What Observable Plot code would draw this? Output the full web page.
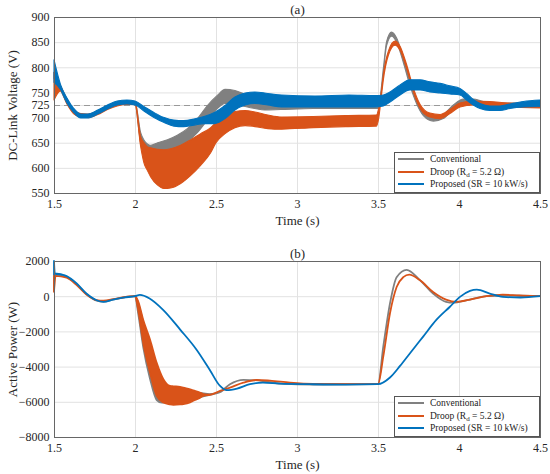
<!DOCTYPE html>
<html>
<head>
<meta charset="utf-8">
<script src="https://cdn.jsdelivr.net/npm/d3@7"></script>
<script src="https://cdn.jsdelivr.net/npm/@observablehq/plot@0.6"></script>
<style>
  html, body { margin: 0; padding: 0; background: #fff; }
  #wrap { position: relative; width: 550px; height: 474px; font-family: "Liberation Serif", serif; }
  #wrap svg, #wrap svg text { font-family: "Liberation Serif", serif !important; }
  .legend { position: absolute; background: #fff; border: 1px solid #555; box-sizing: border-box;
            font-family: "Liberation Serif", serif; font-size: 9.5px; color: #222; }
  .row { display: flex; align-items: center; height: 12.5px; line-height: 12.5px; white-space: nowrap; }
  .swatch { width: 26px; height: 0; border-top: 2px solid; margin-left: 3px; margin-right: 6px; }
  sub { font-size: 7px; vertical-align: -2px; line-height: 0; }
</style>
</head>
<body>
<div id="wrap"></div>
<script>
// ---------- Tick labels ----------
const TIME_TICKS = [1.5, 2, 2.5, 3, 3.5, 4, 4.5];
const VOLT_TICKS = [550, 600, 650, 700, 725, 750, 800, 850, 900];
const POWER_TICKS = [-8000, -6000, -4000, -2000, 0, 2000];
const VOLT_REF = [725];

// ---------- Series names / colours ----------
const SERIES = ["Conventional", "Droop (Rd = 5.2 Ω)", "Proposed (SR = 10 kW/s)"];
const COLORS = ["#808080", "#D95319", "#0072BD"];

// ---------- (a) DC-link voltage: ripple envelopes (low / high) ----------
const convVT  = [1.5, 1.54, 1.58, 1.62, 1.665, 1.705, 1.77, 1.83, 1.89, 1.95, 2.0, 2.035, 2.056, 2.097, 2.14, 2.2, 2.261, 2.323, 2.385, 2.447, 2.508, 2.556, 2.617, 2.68, 2.74, 2.8, 2.9, 3.1, 3.3, 3.5, 3.512, 3.533, 3.553, 3.584, 3.615, 3.656, 3.697, 3.739, 3.78, 3.842, 3.903, 3.965, 4.027, 4.088, 4.15, 4.27, 4.5];
const convVLo = [778, 755, 728, 710, 700, 700, 708, 718, 725, 727, 726, 650, 638, 625, 626, 630, 640, 652, 670, 695, 718, 728, 727, 722, 718, 715, 716, 718, 718, 718, 730, 790, 843, 862, 850, 810, 764, 727, 704, 693, 698, 717, 729, 729, 724, 721, 721];
const convVHi = [790, 763, 736, 716, 706, 706, 714, 724, 731, 733, 732, 670, 655, 645, 650, 656, 665, 678, 698, 724, 744, 756, 754, 746, 738, 735, 734, 734, 734, 734, 740, 798, 851, 870, 858, 818, 772, 735, 712, 700, 706, 725, 737, 737, 732, 729, 729];

const droopVT  = [1.5, 1.54, 1.58, 1.62, 1.665, 1.705, 1.77, 1.83, 1.89, 1.95, 2.0, 2.035, 2.056, 2.076, 2.097, 2.138, 2.179, 2.22, 2.282, 2.344, 2.405, 2.467, 2.5, 2.556, 2.617, 2.68, 2.74, 2.82, 2.905, 3.1, 3.3, 3.49, 3.505, 3.52, 3.533, 3.564, 3.605, 3.636, 3.677, 3.718, 3.76, 3.82, 3.883, 3.944, 4.006, 4.09, 4.19, 4.3, 4.5];
const droopVLo = [735, 753, 727, 708, 701, 700, 706, 716, 723, 726, 726, 642, 609, 595, 582, 566, 559, 560, 569, 585, 605, 630, 650, 668, 680, 684, 682, 678, 677, 680, 682, 683, 700, 740, 775, 824, 844, 834, 797, 751, 718, 701, 698, 708, 721, 725, 724, 721, 719];
const droopVHi = [790, 763, 737, 716, 708, 707, 713, 723, 730, 732, 732, 662, 650, 642, 640, 637, 636, 638, 645, 656, 668, 680, 690, 705, 712, 714, 711, 705, 701, 702, 704, 705, 720, 750, 785, 832, 852, 842, 805, 759, 726, 709, 706, 716, 729, 733, 732, 729, 727];

const propVT  = [1.5, 1.54, 1.58, 1.62, 1.665, 1.705, 1.77, 1.83, 1.89, 1.95, 2.0, 2.055, 2.117, 2.18, 2.24, 2.3, 2.364, 2.426, 2.49, 2.556, 2.617, 2.68, 2.74, 2.82, 2.905, 3.11, 3.32, 3.48, 3.533, 3.574, 3.636, 3.697, 3.76, 3.82, 3.883, 3.944, 4.006, 4.047, 4.088, 4.13, 4.19, 4.253, 4.314, 4.397, 4.5];
const propVLo = [770, 756, 729, 711, 699, 699, 707, 717, 725, 727, 725, 713, 700, 690, 683, 682, 685, 688, 688, 698, 715, 725, 728, 725, 721, 721, 721, 721, 723, 731, 745, 755, 755, 751, 749, 747, 745, 735, 725, 718, 714, 714, 718, 721, 722];
const propVHi = [815, 766, 739, 719, 707, 707, 715, 725, 733, 735, 733, 722, 710, 700, 695, 694, 697, 702, 710, 724, 741, 749, 751, 748, 745, 743, 745, 744, 745, 751, 765, 775, 775, 771, 768, 763, 758, 748, 736, 728, 723, 723, 727, 732, 735];

// ---------- (b) Active power ----------
const convPT  = [1.5, 1.505, 1.578, 1.64, 1.70, 1.763, 1.805, 1.866, 1.93, 2.0, 2.02, 2.051, 2.093, 2.134, 2.165, 2.2, 2.3, 2.4, 2.46, 2.525, 2.586, 2.67, 2.79, 2.9, 3.1, 3.5, 3.533, 3.574, 3.615, 3.677, 3.76, 3.84, 3.92, 3.965, 4.05, 4.17, 4.3, 4.5];
const convPLo = [300, 1250, 1100, 680, 120, -250, -300, -180, -70, 0, -1000, -2900, -4700, -5900, -6050, -6050, -5950, -5750, -5600, -5450, -5000, -4750, -4820, -4970, -5020, -5000, -2840, -410, 1080, 1500, 900, 150, -320, -370, -220, 0, 40, 0];
const convPHi = [1200, 1250, 1100, 680, 120, -250, -300, -180, -70, 0, -400, -1500, -2700, -4000, -4700, -5150, -5250, -5500, -5560, -5450, -5000, -4750, -4820, -4970, -5020, -5000, -2840, -410, 1080, 1500, 900, 150, -320, -370, -220, 0, 40, 0];

const droopPT  = [1.5, 1.51, 1.578, 1.64, 1.70, 1.763, 1.805, 1.866, 1.93, 2.0, 2.02, 2.051, 2.093, 2.134, 2.175, 2.216, 2.237, 2.278, 2.298, 2.34, 2.36, 2.40, 2.42, 2.463, 2.525, 2.586, 2.669, 2.751, 2.833, 2.957, 3.1, 3.5, 3.533, 3.574, 3.615, 3.656, 3.693, 3.76, 3.84, 3.92, 3.986, 4.068, 4.17, 4.27, 4.37, 4.5];
const droopPLo = [250, 1150, 1050, 630, 100, -220, -250, -170, -60, 0, -790, -2660, -4350, -5660, -6040, -6150, -6170, -6150, -6130, -6030, -5940, -5780, -5660, -5600, -5380, -5190, -4910, -4760, -4800, -4910, -4980, -5000, -3400, -970, 520, 1080, 1230, 900, 240, -190, -320, -190, 0, 90, 40, 0];
const droopPHi = [1150, 1150, 1050, 630, 100, -220, -250, -170, -60, 0, -300, -1350, -2470, -3790, -4720, -5100, -5120, -5150, -5200, -5290, -5350, -5470, -5560, -5600, -5380, -5190, -4910, -4760, -4800, -4910, -4980, -5000, -3400, -970, 520, 1080, 1230, 900, 240, -190, -320, -190, 0, 90, 40, 0];

const propPT  = [1.5, 1.505, 1.578, 1.64, 1.70, 1.763, 1.805, 1.866, 1.93, 2.0, 2.03, 2.09, 2.175, 2.28, 2.38, 2.46, 2.525, 2.566, 2.63, 2.71, 2.79, 2.895, 3.08, 3.3, 3.5, 3.574, 3.636, 3.70, 3.78, 3.86, 3.944, 4.006, 4.068, 4.11, 4.19, 4.27, 4.38, 4.5];
const propPLo = [1250, 1300, 1140, 720, 150, -230, -320, -190, -75, 0, 75, -130, -790, -1910, -3040, -4160, -5100, -5340, -5250, -5000, -4910, -4970, -5000, -5020, -5000, -4620, -3960, -3210, -2280, -1350, -600, -40, 300, 370, 150, -40, -75, 0];
const propPHi = [2000, 1300, 1140, 720, 150, -230, -320, -190, -75, 0, 75, -130, -790, -1910, -3040, -4160, -5100, -5340, -5250, -5000, -4910, -4970, -5000, -5020, -5000, -4620, -3960, -3210, -2280, -1350, -600, -40, 300, 370, 150, -40, -75, 0];

// ---------- build tables ----------
const rows = (t, lo, hi) => t.map((x, i) => ({t: x, lo: lo[i], hi: hi[i]}));
const voltSeries = [rows(convVT, convVLo, convVHi), rows(droopVT, droopVLo, droopVHi), rows(propVT, propVLo, propVHi)];
const powerSeries = [rows(convPT, convPLo, convPHi), rows(droopPT, droopPLo, droopPHi), rows(propPT, propPLo, propPHi)];

const FONT = '"Liberation Serif", serif';
const fmt = d3.format("d");

function panel({series, yDomain, yTicks, yLabel, title, marginTop, marginBottom, sw, extra}) {
  const seriesMarks = series.map((data, i) =>
    Plot.areaY(data, {x: "t", y1: "lo", y2: "hi", fill: COLORS[i], stroke: COLORS[i], strokeWidth: sw, strokeLinejoin: "round", curve: "monotone-x"})
  );
  return Plot.plot({
    width: 550, height: 237,
    marginLeft: 54, marginRight: 10, marginTop, marginBottom,
    x: {domain: [1.5, 4.5]},
    y: {domain: yDomain},
    style: {fontFamily: FONT, fontSize: "12px", color: "#262626", background: "white", overflow: "visible"},
    marks: [
      Plot.gridX(TIME_TICKS, {stroke: "#e2e2e2", strokeOpacity: 1}),
      Plot.gridY(yTicks, {stroke: "#e2e2e2", strokeOpacity: 1}),
      ...(extra || []),
      ...seriesMarks,
      Plot.frame({stroke: "#666", strokeWidth: 1}),
      Plot.axisX({ticks: TIME_TICKS, tickSize: 0, tickPadding: 6, tickFormat: d => String(d), label: null, fontSize: 12}),
      Plot.axisY({ticks: yTicks, tickSize: 0, tickPadding: 5, tickFormat: fmt, label: null, fontSize: 12}),
      Plot.text(["Time (s)"], {text: d => d, frameAnchor: "bottom", dy: 27, lineAnchor: "middle", textAnchor: "middle", fontSize: 13}),
      Plot.text([yLabel], {text: d => d, frameAnchor: "left", rotate: -90, dx: -42, lineAnchor: "middle", textAnchor: "middle", fontSize: 13}),
      Plot.text([title], {text: d => d, frameAnchor: "top", dy: -8, lineAnchor: "middle", textAnchor: "middle", fontSize: 13})
    ]
  });
}

const topPanel = panel({
  series: voltSeries, yDomain: [550, 900], yTicks: VOLT_TICKS,
  yLabel: "DC-Link Voltage (V)", title: "(a)", marginTop: 17, marginBottom: 44, sw: 1.1,
  extra: [Plot.ruleY(VOLT_REF, {stroke: "#999", strokeDasharray: "6,4", strokeWidth: 1})]
});
const bottomPanel = panel({
  series: powerSeries, yDomain: [-8000, 2000], yTicks: POWER_TICKS,
  yLabel: "Active Power (W)", title: "(b)", marginTop: 24, marginBottom: 37, sw: 1.8
});

const wrap = document.getElementById("wrap");
topPanel.style.display = "block";
bottomPanel.style.display = "block";
wrap.appendChild(topPanel);
wrap.appendChild(bottomPanel);

function legend(left, topPx, height) {
  const box = document.createElement("div");
  box.className = "legend";
  Object.assign(box.style, {left: left + "px", top: topPx + "px", width: (540 - left) + "px", height: height + "px"});
  SERIES.forEach((name, i) => {
    const row = document.createElement("div");
    row.className = "row";
    const sw = document.createElement("span");
    sw.className = "swatch";
    sw.style.borderTopColor = COLORS[i];
    row.appendChild(sw);
    const label = document.createElement("span");
    if (name.startsWith("Droop")) {
      label.innerHTML = "Droop (R<sub>d</sub> = 5.2 Ω)";
    } else {
      label.textContent = name;
    }
    row.appendChild(label);
    box.appendChild(row);
  });
  wrap.appendChild(box);
}
legend(394, 152, 41);
legend(394, 396, 41);
</script>
</body>
</html>
